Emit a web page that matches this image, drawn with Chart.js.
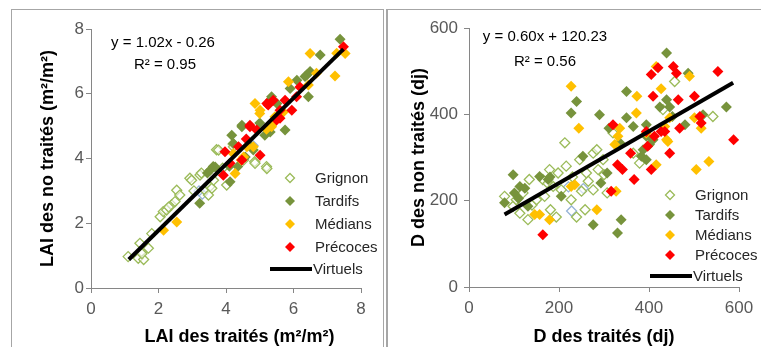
<!DOCTYPE html>
<html>
<head>
<meta charset="utf-8">
<script src="https://cdn.jsdelivr.net/npm/chart.js@4/dist/chart.umd.min.js"></script>
<style>
  body { margin: 0; background: #fff; width: 761px; height: 347px; overflow: hidden; position: relative; }
  .panel { position: absolute; top: 9px; height: 400px; border: 1px solid #a6a6a6; }
  #p1 { left: 11px; width: 371px; }
  #p2 { left: 386px; width: 400px; border-left: 2px solid #a6a6a6; }
  canvas { position: absolute; }
  #c1 { left: 13px; top: 11px; }
  #c2 { left: 389px; top: 11px; }
</style>
</head>
<body>
<div class="panel" id="p1"></div>
<div class="panel" id="p2"></div>
<canvas id="c1" width="369" height="338"></canvas>
<canvas id="c2" width="372" height="338"></canvas>
<script>
// ---- LAI panel (m2/m2) ----
const laiTicks = [0, 2, 4, 6, 8]
const laiGrignon = [[1.10,0.97],[1.40,0.92],[1.50,1.12],[1.56,0.88],[1.70,1.23],[1.45,1.38],[1.51,1.06],[1.80,1.68],
  [2.05,2.20],[2.14,2.36],[2.24,2.41],[2.39,2.57],[2.49,2.67],[2.54,3.02],[2.63,2.87],[2.93,3.39],[2.98,3.33],[3.23,3.49],
  [3.27,3.55],[3.38,3.02],[3.52,3.13],[3.58,3.08],[3.48,2.87],[3.63,3.33],[3.72,4.27],[3.78,4.26],[4.02,3.18],[4.21,4.45],
  [4.22,4.36],[4.52,3.95],[4.85,3.90],[4.86,3.85],[5.20,3.75],[5.21,3.69],[2.30,2.50],[3.05,3.00],[3.90,3.70]]
const laiTardifs = [[3.22,2.62],[3.45,3.55],[3.53,3.64],[3.62,3.75],[3.68,3.74],[4.10,3.76],[4.12,3.28],[4.17,4.72],
  [4.22,4.46],[4.35,3.75],[4.47,4.98],[4.47,5.03],[4.57,4.05],[4.70,4.40],[4.81,4.26],[5.00,5.10],[5.15,4.72],[5.31,5.80],
  [5.35,5.91],[5.51,5.70],[5.31,4.82],[5.45,5.20],[5.75,4.88],[5.90,6.16],[6.10,6.42],[6.34,6.53],[6.39,6.58],[6.44,5.91],
  [6.49,6.69],[6.79,7.20],[7.38,7.68]]
const laiMedians = [[2.15,1.78],[2.54,2.04],[4.27,3.54],[4.52,4.05],[4.22,4.15],[4.45,3.95],[4.62,4.36],[4.81,4.36],
  [4.86,5.70],[5.00,5.39],[5.01,5.49],[5.20,4.90],[5.35,5.03],[5.35,4.98],[5.45,5.29],[5.70,5.44],[5.85,6.37],[6.44,6.27],
  [6.49,7.24],[6.68,6.63],[7.23,6.55],[7.28,7.25],[7.53,7.24]]
const laiPrecoces = [[3.92,3.48],[3.97,4.21],[4.12,3.85],[4.37,4.36],[4.47,3.95],[4.60,4.60],[4.71,4.98],[4.71,5.03],
  [4.91,4.88],[5.01,4.10],[5.21,5.70],[5.25,5.65],[5.40,5.80],[5.50,5.19],[5.60,5.24],[5.60,5.49],[5.75,5.80],[5.95,5.49],
  [6.09,5.91],[6.19,6.21],[7.48,7.45]]
const laiAutres = [[3.20,3.00],[3.30,2.90],[4.80,4.40]]
const laiVirtuels = [[1.12,0.88],[7.48,7.38]]

// ---- D panel (dj) ----
const dTicks = [0, 200, 400, 600]
const dGrignon = [[79,210],[98,187],[105,202],[113,171],[120,218],[131,156],[134,249],[140,190],[150,202],[164,249],
  [168,210],[175,240],[179,272],[181,179],[187,233],[194,162],[198,264],[205,225],[213,334],[216,280],[227,202],[230,255],
  [239,162],[246,295],[250,222],[258,179],[261,264],[265,245],[276,225],[276,310],[284,318],[287,272],[298,295],[300,260],
  [307,218],[320,357],[365,310],[379,287],[431,411],[457,476],[542,395]]
const dTardifs = [[79,195],[98,260],[101,218],[110,205],[113,233],[124,229],[131,187],[157,256],[176,249],[180,255],
  [205,210],[227,403],[239,430],[253,303],[276,144],[290,399],[293,241],[307,264],[311,368],[330,125],[335,334],[338,156],
  [350,453],[350,392],[365,372],[383,303],[387,318],[394,295],[394,349],[394,376],[401,330],[409,341],[424,417],[439,542],
  [439,434],[446,417],[452,395],[480,376],[487,495],[520,399],[572,417]]
const dMedians = [[146,168],[157,168],[179,156],[227,465],[227,233],[235,237],[244,368],[284,179],[324,330],[327,222],
  [331,349],[335,368],[372,403],[373,442],[394,357],[416,511],[416,283],[427,459],[435,372],[439,341],[442,337],[446,392],
  [490,488],[501,392],[505,272],[516,368],[533,291]]
const dPrecoces = [[164,121],[316,222],[320,376],[330,283],[341,272],[359,310],[367,249],[394,360],[397,326],[405,272],
  [405,492],[409,442],[412,349],[420,508],[427,360],[435,360],[446,310],[454,511],[461,495],[465,434],[468,368],[501,442],
  [513,395],[516,380],[553,499],[588,341]]
const dAutres = [[221,232],[254,228],[228,176]]
const dVirtuels = [[79,168],[587,473]]

const seriesNames = ['Grignon', 'Tardifs', 'Médians', 'Précoces', 'Virtuels']
const colors = { grignon: '#9bbb59', tardifs: '#77933c', medians: '#ffc000', precoces: '#ff0000', autres: '#95b3d7', line: '#000000' }
const FONT = "'Liberation Sans', Arial, sans-serif"
const axisGrey = '#868686'
const textGrey = '#595959'

const pts = arr => arr.map(([x, y]) => ({ x, y }))

function diamond(ctx, x, y, r) {
  ctx.beginPath()
  ctx.moveTo(x, y - r); ctx.lineTo(x + r, y); ctx.lineTo(x, y + r); ctx.lineTo(x - r, y); ctx.closePath()
}

// equation + legend drawn inside plot area
function overlay(o) {
  return {
    id: 'overlay',
    afterDraw(chart) {
      const ctx = chart.ctx
      ctx.save()
      ctx.fillStyle = '#000'
      ctx.font = '15px ' + FONT
      ctx.textAlign = 'center'
      ctx.textBaseline = 'middle'
      ctx.fillText(o.eq, o.eqX, o.eqY)
      ctx.fillText(o.r2, o.r2X, o.r2Y)
      const fills = [null, colors.tardifs, colors.medians, colors.precoces]
      ctx.textAlign = 'left'
      seriesNames.forEach((name, i) => {
        const y = o.legY[i]
        if (i === 0) {
          diamond(ctx, o.markX, y, 4.5)
          ctx.fillStyle = '#fff'; ctx.fill()
          ctx.strokeStyle = colors.grignon; ctx.lineWidth = 1.3; ctx.stroke()
        } else if (i < 4) {
          diamond(ctx, o.markX, y, 5)
          ctx.fillStyle = fills[i]; ctx.fill()
        } else {
          ctx.beginPath(); ctx.moveTo(o.lineX0, y); ctx.lineTo(o.lineX1, y)
          ctx.strokeStyle = '#000'; ctx.lineWidth = 4; ctx.stroke()
        }
        ctx.fillStyle = '#262626'
        ctx.fillText(name, i === 4 ? o.lineX1 + 1 : o.textX, y + 1)
      })
      ctx.restore()
    }
  }
}

function build(canvas, d, ax) {
  const marker = (data, fill, order) => ({
    type: 'scatter', data: pts(data), pointStyle: 'rectRot', pointRadius: 5.5, pointHoverRadius: 5.5,
    backgroundColor: fill, borderColor: fill, borderWidth: 0, order
  })
  const datasets = [
    { type: 'line', label: 'Virtuels', data: pts(d.virt), borderColor: '#000', borderWidth: 4, pointRadius: 0, fill: false, order: 0 },
    Object.assign(marker(d.prec, colors.precoces, 1), { label: 'Précoces' }),
    Object.assign(marker(d.med, colors.medians, 2), { label: 'Médians' }),
    Object.assign(marker(d.tard, colors.tardifs, 3), { label: 'Tardifs' }),
    { type: 'scatter', label: 'Grignon', data: pts(d.grig), pointStyle: 'rectRot', pointRadius: 5, backgroundColor: 'rgba(255,255,255,0.6)', borderColor: colors.grignon, borderWidth: 1.3, order: 4 },
    { type: 'scatter', label: 'autres', data: pts(d.aut), pointStyle: 'rectRot', pointRadius: 5, backgroundColor: 'rgba(255,255,255,0)', borderColor: colors.autres, borderWidth: 1.3, order: 5 },
  ]
  const noPad = s => { s.paddingTop = 0; s.paddingBottom = 0; s.paddingLeft = 0; s.paddingRight = 0 }
  const tickFont = { family: FONT, size: 17 }
  const titleFont = { family: FONT, size: 18, weight: 'bold' }
  return new Chart(canvas.getContext('2d'), {
    data: { datasets },
    options: {
      responsive: false,
      animation: false,
      layout: { padding: { top: ax.padTop, right: ax.padRight, left: 0, bottom: 0 } },
      plugins: { legend: { display: false }, tooltip: { enabled: false } },
      scales: {
        x: {
          type: 'linear', min: ax.ticks[0], max: ax.ticks[ax.ticks.length - 1],
          afterBuildTicks: s => { s.ticks = ax.ticks.map(v => ({ value: v })) },
          afterFit: s => { s.height = ax.xH; noPad(s) },
          grid: { drawOnChartArea: false, color: axisGrey, tickLength: 5 },
          border: { color: axisGrey, width: 1 },
          ticks: { font: tickFont, color: textGrey, padding: 6, maxRotation: 0 },
          title: { display: true, text: ax.xTitle, font: titleFont, color: '#000', padding: { top: 0, bottom: 1 } }
        },
        y: {
          type: 'linear', min: ax.ticks[0], max: ax.ticks[ax.ticks.length - 1],
          afterBuildTicks: s => { s.ticks = ax.ticks.map(v => ({ value: v })) },
          afterFit: s => { s.width = ax.yW; noPad(s) },
          grid: { drawOnChartArea: false, color: axisGrey, tickLength: 5 },
          border: { color: axisGrey, width: 1 },
          ticks: { font: tickFont, color: textGrey, padding: ax.yPad },
          title: { display: true, text: ax.yTitle, font: titleFont, color: '#000', padding: { top: ax.yTitlePad, bottom: 0 } }
        }
      }
    },
    plugins: [overlay(ax.overlay)]
  })
}

build(document.getElementById('c1'),
  { grig: laiGrignon, tard: laiTardifs, med: laiMedians, prec: laiPrecoces, aut: laiAutres, virt: laiVirtuels },
  { ticks: laiTicks, padTop: 18, padRight: 21, xH: 61, yW: 78, yPad: 2, yTitlePad: 24,
    xTitle: '\u2003\u2002LAI des traités (m²/m²)', yTitle: 'LAI des no traités (m²/m²)',
    overlay: { eq: 'y = 1.02x - 0.26', eqX: 150, eqY: 32, r2: 'R² = 0.95', r2X: 152, r2Y: 54,
      markX: 277, textX: 302, lineX0: 257, lineX1: 299, legY: [167, 190, 213, 236, 258] } })

build(document.getElementById('c2'),
  { grig: dGrignon, tard: dTardifs, med: dMedians, prec: dPrecoces, aut: dAutres, virt: dVirtuels },
  { ticks: dTicks, padTop: 17, padRight: 22, xH: 62, yW: 80, yPad: 6, yTitlePad: 19,
    xTitle: 'D des traités (dj)', yTitle: 'D des non traités (dj)',
    overlay: { eq: 'y = 0.60x + 120.23', eqX: 156, eqY: 26, r2: 'R² = 0.56', r2X: 156, r2Y: 51,
      markX: 281, textX: 306, lineX0: 261, lineX1: 303, legY: [184, 204, 224, 244, 265] } })
</script>
</body>
</html>
